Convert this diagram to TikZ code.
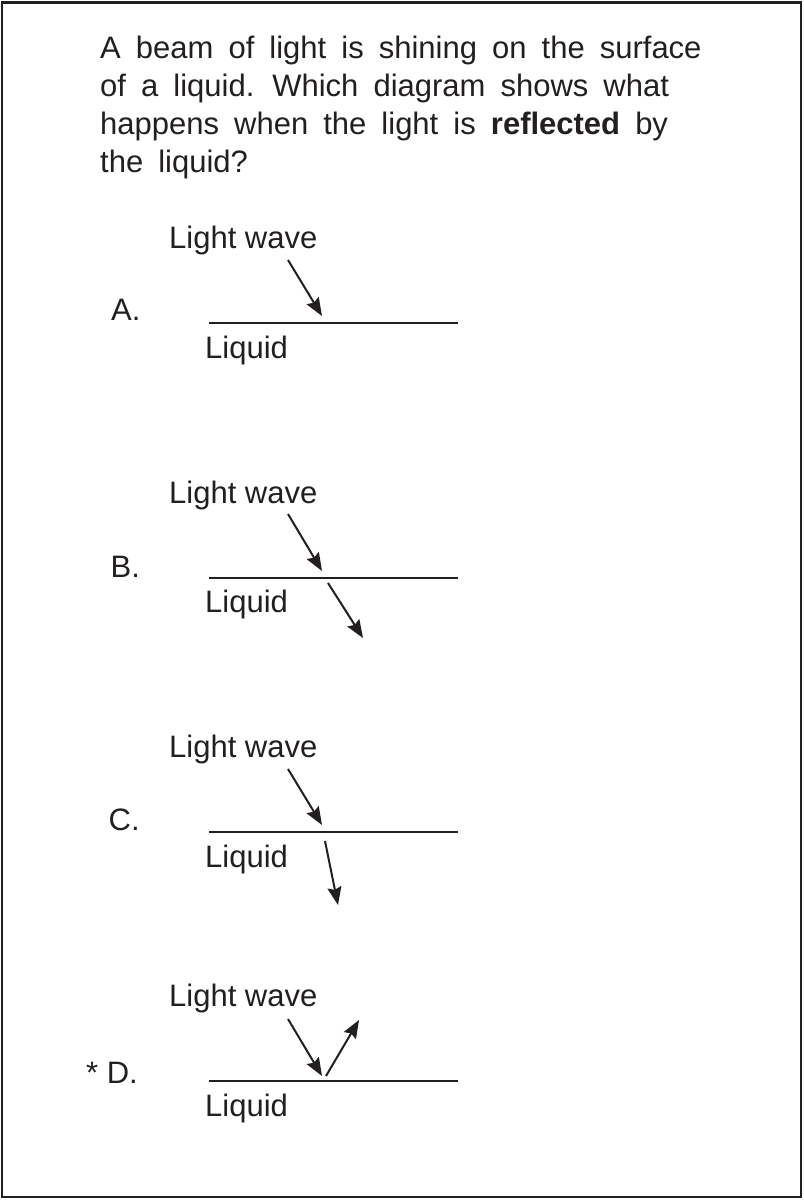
\documentclass[tikz,border=0pt]{standalone}
\usepackage{fontspec}
\setmainfont{Liberation Sans}
\newfontfamily\questfont{Liberation Sans}[WordSpace=1.75]
\usepackage{xcolor}
\usepackage{tikz}
\usetikzlibrary{arrows.meta, positioning}
\definecolor{InkBlack}{HTML}{231F20}
\tikzset{
  pageframe/.style={draw=InkBlack, line width=2.6pt},
  surface/.style={draw=InkBlack, line width=2.6pt},
  ray/.style={-{Stealth[length=18pt, width=14pt, inset=2.5pt]}, draw=InkBlack, line width=2pt},
  txt/.style={anchor=base west, inner sep=0pt, text=InkBlack,
    font=\fontsize{31}{38}\selectfont},
}
\begin{document}
\begin{tikzpicture}[x=1pt, y=-1pt]

  \useasboundingbox (0,0) rectangle (803,1201);
  \draw[pageframe] (2,2.3) rectangle (801,1197);

  % Question
  \node[txt, anchor=north west, align=left,
        font=\questfont\fontsize{31}{38}\selectfont]
    (question) at (100,35.5) {A beam of light is shining on the surface\\
                              of a liquid. Which diagram shows what\\
                              happens when the light is \textbf{reflected} by\\
                              the liquid?};

  % Option A
  \coordinate (aL) at (209,323);
  \coordinate (aR) at (458,323);
  \node[txt] (aLetter) at (111,320) {A.};
  \node[txt] (aWave)   at (169,248) {Light wave};
  \node[txt] (aLiquid) at (205,358) {Liquid};
  \coordinate (aIn)  at (288,260);
  \coordinate (aHit) at (322,316);
  \draw[surface] (aL) -- (aR);
  \draw[ray] (aIn) -- (aHit);

  % Option B
  \coordinate (bL) at (209,578);
  \coordinate (bR) at (458,578);
  \node[txt] (bLetter) at (110.5,577) {B.};
  \node[txt] (bWave)   at (169,503) {Light wave};
  \node[txt] (bLiquid) at (205,612) {Liquid};
  \coordinate (bIn)   at (288,514);
  \coordinate (bHit)  at (322,571);
  \coordinate (bFrom) at (328,583);
  \coordinate (bOut)  at (363,638);
  \draw[surface] (bL) -- (bR);
  \draw[ray] (bIn) -- (bHit);
  \draw[ray] (bFrom) -- (bOut);

  % Option C
  \coordinate (cL) at (209,832);
  \coordinate (cR) at (458,832);
  \node[txt] (cLetter) at (108.5,830) {C.};
  \node[txt] (cWave)   at (169,757) {Light wave};
  \node[txt] (cLiquid) at (205,867) {Liquid};
  \coordinate (cIn)   at (288,769);
  \coordinate (cHit)  at (322,825);
  \coordinate (cFrom) at (325,841);
  \coordinate (cOut)  at (338,905);
  \draw[surface] (cL) -- (cR);
  \draw[ray] (cIn) -- (cHit);
  \draw[ray] (cFrom) -- (cOut);

  % Option D (key)
  \coordinate (dL) at (209,1081);
  \coordinate (dR) at (458,1081);
  \node[txt] (dLetter) at (86,1083) {* D.};
  \node[txt] (dWave)   at (169,1006) {Light wave};
  \node[txt] (dLiquid) at (205,1116) {Liquid};
  \coordinate (dIn)   at (288,1019);
  \coordinate (dHit)  at (322,1076);
  \coordinate (dFrom) at (326,1076);
  \coordinate (dOut)  at (359,1020);
  \draw[surface] (dL) -- (dR);
  \draw[ray] (dIn) -- (dHit);
  \draw[ray] (dFrom) -- (dOut);

\end{tikzpicture}
\end{document}
